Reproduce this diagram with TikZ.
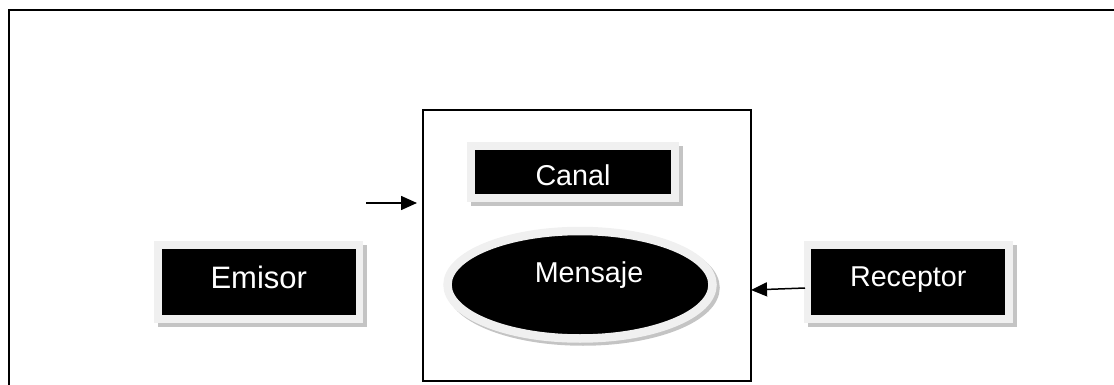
\documentclass[tikz,border=0pt]{standalone}
\usepackage{fontspec}
\setmainfont{Liberation Sans}
\usetikzlibrary{shapes.geometric,shadows,arrows.meta}
\definecolor{framegray}{HTML}{F0F0F0}
\definecolor{shadowgray}{HTML}{C4C4C4}
\tikzset{
  blackbox/.style={rectangle, fill=black, draw=framegray, text=white,
    inner sep=0pt, outer sep=0pt, line width=#1,
    drop shadow={shadow xshift=4pt, shadow yshift=-4pt, fill=shadowgray,
      draw=shadowgray, opacity=1}},
  blackbox/.default=7.5pt,
  blackoval/.style={ellipse, fill=black, draw=framegray, text=white,
    inner sep=0pt, outer sep=0pt, line width=8.5pt,
    drop shadow={shadow xshift=3pt, shadow yshift=-3pt, fill=shadowgray,
      draw=shadowgray, opacity=1}},
  bigtext/.style={font=\fontsize{31}{36}\selectfont},
  midtext/.style={font=\fontsize{28.7}{34}\selectfont},
  conn/.style={line width=1.5pt, -{Triangle[length=16pt,width=14pt]}},
}
\begin{document}
\begin{tikzpicture}[x=1pt,y=-1pt]
  \useasboundingbox (0,0) rectangle (1114,385);
  % outer frame (top and left edges)
  \draw[line width=2pt] (9,385) -- (9,10) -- (1114,10);

  % central box holding channel and message
  \node[draw, line width=1.5pt, inner sep=0pt, outer sep=0pt,
        minimum width=328pt, minimum height=271pt] (medio) at (587,245.5) {};

  \node[blackbox, bigtext, minimum width=201.5pt, minimum height=74pt,
        text height=12pt, text depth=0pt] (emi) at (258.75,282) {Emisor};
  \node[blackbox=8pt, midtext, minimum width=204pt, minimum height=52pt,
        text height=27pt, text depth=0pt] (can) at (573,172) {Canal};
  \node[blackoval, midtext, minimum width=265pt, minimum height=107.5pt,
        text height=0pt, text depth=4pt] (msg) at (580,284.75)
        {\hspace{18pt}Mensaje};
  \node[blackbox, midtext, minimum width=201.5pt, minimum height=74pt,
        text height=8pt, text depth=0pt] (rec) at (908.25,282) {Receptor};

  % connectors
  \coordinate (entrada) at (366,203);
  \draw[conn, shorten >=6pt] (entrada) -- (medio.west |- entrada);
  \draw[conn] ([xshift=-2.5pt,yshift=-6pt]rec.west)
    -- ([yshift=-8pt]medio.east |- rec.west);
\end{tikzpicture}
\end{document}
